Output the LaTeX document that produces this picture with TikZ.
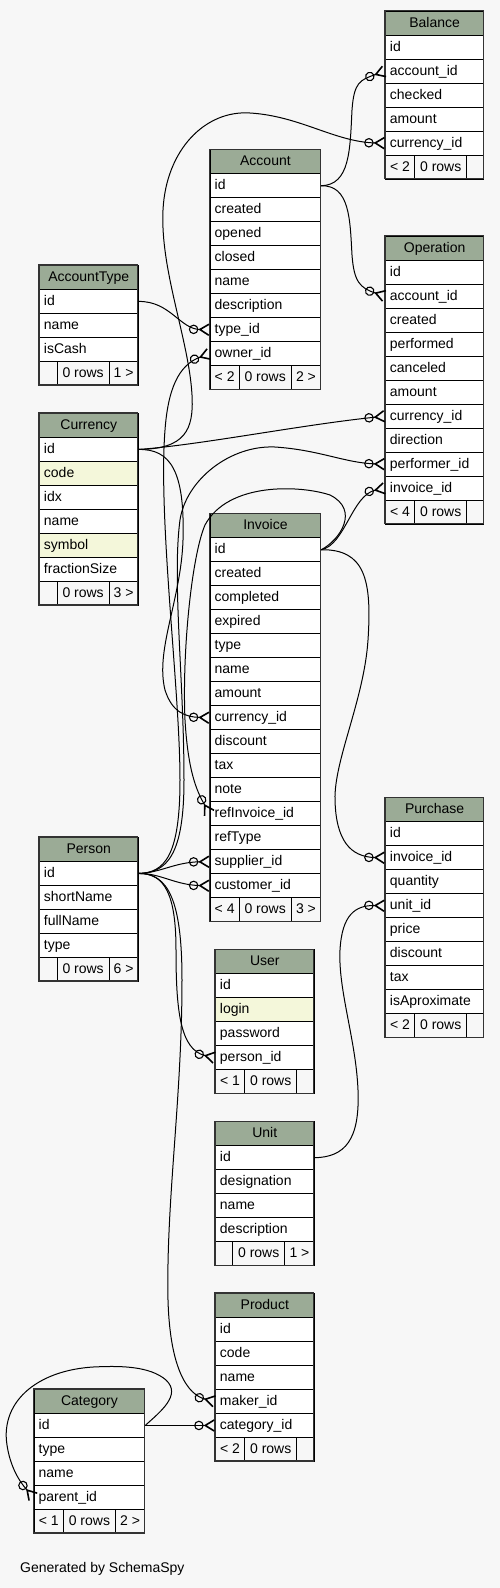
\documentclass[tikz,border=0pt]{standalone}
\usepackage{fontspec}
\setmainfont{Liberation Sans}
\usetikzlibrary{arrows.meta}

\definecolor{canvas}{HTML}{F7F7F7}
\definecolor{headgreen}{HTML}{9BAB96}
\definecolor{indexyellow}{HTML}{F4F7DA}
\definecolor{footgray}{HTML}{F7F7F7}

\tikzset{
  cell/.style={draw=black, line width=0.9pt, inner xsep=4.5pt, inner ysep=0pt,
    minimum height=24pt, text height=10.5pt, text depth=2.5pt, anchor=north west,
    font=\fontsize{14}{16}\selectfont},
  tablehead/.style={cell, fill=headgreen},
  tablerow/.style={cell, align=left},
  tablefoot/.style={cell, fill=footgray, inner xsep=0pt},
  tableframe/.style={draw=black!80, line width=1.3pt},
  fk/.style={line width=1pt,
    -{Circle[open, length=9.5pt, width=9.5pt, line width=1.1pt] Straight Barb[reversed, length=9pt, width=11pt, line width=1.6pt]}}
}

% #1 name, #2 x, #3 y, #4 width, #5 title, #6 rows, #7 left foot, #8 its width, #9 right foot
\newcommand{\dbtable}[9]{%
  \pgfmathsetmacro\rowtw{#4-9}
  \node[tablehead, minimum width=#4] (#1-head) at (#2,#3) {#5};
  \foreach \rowfill/\rowtext [count=\i] in {#6} {
    \node[tablerow, fill=\rowfill, text width=\rowtw pt] (#1-\i) at (#2,#3+24*\i) {\rowtext};
    \xdef\rowcount{\i}
  }
  \pgfmathsetmacro\footy{#3+24*(\rowcount+1)}
  \pgfmathsetmacro\footrest{#4-#8-52}
  \node[tablefoot, minimum width=#8] (#1-lt) at (#2,\footy) {#7};
  \node[tablefoot, minimum width=52] (#1-rows) at (#2+#8,\footy) {0 rows};
  \node[tablefoot, minimum width=\footrest] (#1-gt) at (#2+#8+52,\footy) {#9};
  \draw[tableframe] (#2,#3) rectangle ++(#4,{24*(\rowcount+2)});
}

\begin{document}
\begin{tikzpicture}[x=1pt, y=-1pt]
\path[use as bounding box, fill=canvas] (0,0) rectangle (500,1588);

%% Tables %%%%%%%%%%%%%%%%%%%%%%%
\dbtable{Balance}{385}{10.7}{98.3}{Balance}
  {white/id, white/account\_id, white/checked, white/amount, white/currency\_id}{< 2}{29.3}{}
\dbtable{Account}{209.7}{149.3}{110.6}{Account}
  {white/id, white/created, white/opened, white/closed, white/name, white/description,
   white/type\_id, white/owner\_id}{< 2}{29}{2 >}
\dbtable{AccountType}{39}{265}{98.7}{AccountType}
  {white/id, white/name, white/isCash}{}{17.7}{1 >}
\dbtable{Operation}{385}{235.7}{98.3}{Operation}
  {white/id, white/account\_id, white/created, white/performed, white/canceled, white/amount,
   white/currency\_id, white/direction, white/performer\_id, white/invoice\_id}{< 4}{29.3}{}
\dbtable{Currency}{39}{413}{98.7}{Currency}
  {white/id, indexyellow/code, white/idx, white/name, indexyellow/symbol, white/fractionSize}{}{17.7}{3 >}
\dbtable{Invoice}{209.7}{513.3}{110.6}{Invoice}
  {white/id, white/created, white/completed, white/expired, white/type, white/name, white/amount,
   white/currency\_id, white/discount, white/tax, white/note, white/refInvoice\_id, white/refType,
   white/supplier\_id, white/customer\_id}{< 4}{29}{3 >}
\dbtable{Purchase}{385}{797.3}{98.3}{Purchase}
  {white/id, white/invoice\_id, white/quantity, white/unit\_id, white/price, white/discount,
   white/tax, white/isAproximate}{< 2}{29.3}{}
\dbtable{Person}{39}{837}{98.7}{Person}
  {white/id, white/shortName, white/fullName, white/type}{}{17.7}{6 >}
\dbtable{User}{215}{949.3}{98.7}{User}
  {white/id, indexyellow/login, white/password, white/person\_id}{< 1}{29.3}{}
\dbtable{Unit}{215}{1121.3}{98.7}{Unit}
  {white/id, white/designation, white/name, white/description}{}{17.3}{1 >}
\dbtable{Product}{215}{1293}{98.7}{Product}
  {white/id, white/code, white/name, white/maker\_id, white/category\_id}{< 2}{29.3}{}
\dbtable{Category}{33.7}{1389}{110.6}{Category}
  {white/id, white/type, white/name, white/parent\_id}{< 1}{29.3}{2 >}

%% Relations %%%%%%%%%%%%%%%%%%%%
\draw[fk] (Account-1.east) .. controls (350,185) and (350,150) .. (352,110)
  .. controls (354,82) and (360,80) .. (Balance-2.west);
\draw[fk] (Account-1.east) .. controls (350,185) and (350,220) .. (352,255)
  .. controls (354,282) and (360,288) .. (Operation-2.west);
\draw[fk] (Currency-1.east) .. controls (185,449) and (194,430) .. (192,395)
  .. controls (189,340) and (160,270) .. (163,210)
  .. controls (166,150) and (205,110) .. (250,113)
  .. controls (300,116) and (335,142) .. (Balance-5.west);
\draw[fk] (AccountType-1.east) .. controls (170,301) and (180,329) .. (Account-7.west);
\draw[fk] (Currency-1.east) .. controls (200,445) and (300,425) .. (Operation-7.west);
\draw[fk] (Currency-1.east) .. controls (170,449) and (185,470) .. (183,540)
  .. controls (181,600) and (155,650) .. (165,690)
  .. controls (172,712) and (185,717) .. (Invoice-8.west);

%% Person
\draw[fk] (Person-1.east) .. controls (165,873) and (180,855) .. (180,780)
  .. controls (180,690) and (158,520) .. (165,430)
  .. controls (168,390) and (178,365) .. (Account-8.west);
\draw[fk] (Person-1.east) .. controls (167,873) and (184,855) .. (184,780)
  .. controls (184,680) and (172,580) .. (180,520)
  .. controls (186,480) and (230,445) .. (275,447)
  .. controls (320,450) and (345,463) .. (Operation-9.west);
\draw[fk] (Person-1.east) .. controls (160,873) and (175,862) .. (Invoice-14.west);
\draw[fk] (Person-1.east) .. controls (160,873) and (175,885) .. (Invoice-15.west);
\draw[fk] (Person-1.east) .. controls (165,873) and (176,895) .. (176,950)
  .. controls (176,1010) and (180,1050) .. (User-4.west);
\draw[fk] (Person-1.east) .. controls (168,873) and (182,900) .. (182,980)
  .. controls (182,1100) and (166,1200) .. (168,1300)
  .. controls (170,1370) and (188,1395) .. (Product-4.west);

%% Invoice
\draw[fk] (Invoice-1.east) .. controls (345,545) and (352,495) .. (Operation-10.west);
\draw[fk] (Invoice-1.east) .. controls (340,540) and (360,510) .. (330,495)
  .. controls (300,485) and (228,482) .. (205,525)
  .. controls (192,555) and (182,650) .. (185,720)
  .. controls (188,770) and (196,790) .. (Invoice-12.west);
\draw[fk] (Invoice-1.east) .. controls (365,549) and (372,580) .. (368,640)
  .. controls (364,700) and (334,760) .. (335,800)
  .. controls (336,840) and (350,857) .. (Purchase-2.west);

%% Unit, Category
\draw[fk] (Unit-1.east) .. controls (345,1157) and (360,1140) .. (358,1090)
  .. controls (356,1040) and (338,990) .. (340,950)
  .. controls (342,915) and (355,905) .. (Purchase-4.west);
\draw[fk] (Category-1.east) -- (Product-5.west);
\draw[fk] (Category-1.east) .. controls (160,1412) and (182,1395) .. (166,1380)
  .. controls (150,1366) and (120,1366) .. (100,1366.7)
  .. controls (40,1368) and (0,1400) .. (7,1445)
  .. controls (10,1465) and (18,1480) .. (Category-4.west);

%% Labels
\node[anchor=base west, font=\fontsize{14}{16}\selectfont] (credit) at (16.7,1572) {Generated by SchemaSpy};

\end{tikzpicture}
\end{document}
